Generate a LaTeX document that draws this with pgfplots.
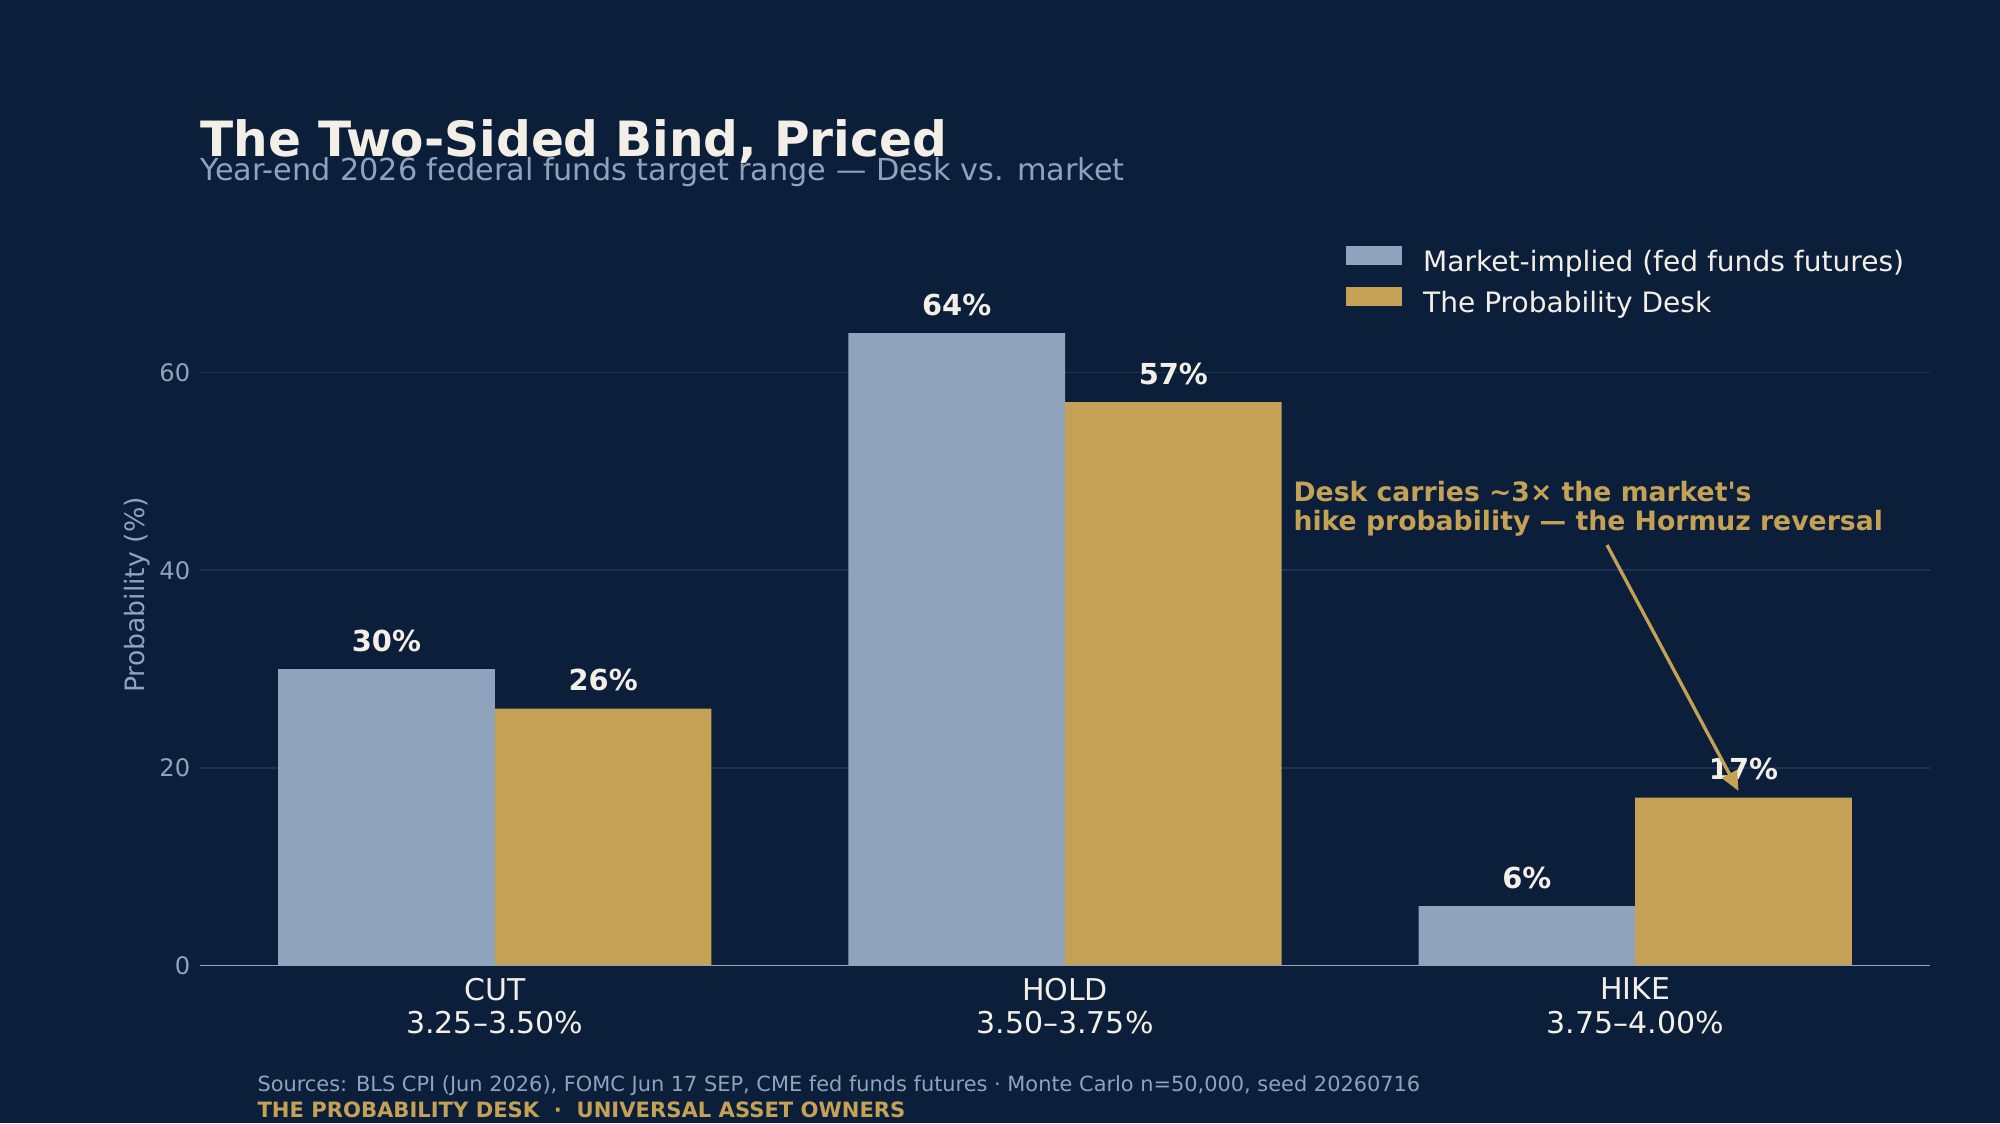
\documentclass[border=0pt]{standalone}
\usepackage{fontspec}
\setmainfont{DejaVu Sans}[Ligatures=TeXOff]
\usepackage{pgfplots}
\pgfplotsset{compat=1.18}
\usetikzlibrary{arrows.meta}
\definecolor{bg}{HTML}{0B1F3A}
\definecolor{mkt}{HTML}{8FA3BD}
\definecolor{desk}{HTML}{C4A155}
\definecolor{cream}{HTML}{F4EFE6}
\definecolor{sub}{HTML}{8FA3BD}
\definecolor{gridc}{HTML}{1C3252}
\begin{document}
\begin{tikzpicture}
\begin{scope}[x=0.36pt,y=-0.36pt]
\fill[bg] (0,0) rectangle (2000,1123);
\end{scope}
\begin{axis}[
  at={(72pt,-347.58pt)}, anchor=south west, scale only axis,
  width=622.8pt, height=249.05pt,
  xmin=-0.517, xmax=2.517, ymin=0, ymax=70,
  axis line style={draw=none},
  major tick length=0pt,
  /pgf/number format/assume math mode=true,
  ytick={0,20,40,60},
  yticklabel style={font=\fontsize{8.7}{10}\selectfont, text=sub},
  xtick={0,1,2},
  xticklabels={{CUT\\3.25–3.50\%},{HOLD\\3.50–3.75\%},{HIKE\\3.75–4.00\%}},
  xticklabel style={font=\fontsize{10.8}{12.2}\selectfont, text=cream, align=center, yshift=-0.9pt},
  ymajorgrids, grid style={gridc, line width=0.6pt},
  bar width=0.38,
  nodes near coords={\pgfmathprintnumber[fixed,precision=0]{\pgfplotspointmeta}\%},
  every node near coord/.append style={font=\bfseries\fontsize{10.4}{12}\selectfont, text=cream, inner sep=0pt, anchor=south, yshift=6pt},
  legend style={draw=none, fill=none, at={(rel axis cs:0.6624,0.988)}, anchor=west,
    inner sep=0pt, outer sep=0pt, row sep=3.8pt, column sep=7.6pt,
    font=\fontsize{10.1}{12}\selectfont, text=cream,
    nodes={inner sep=0pt, text height=7pt, text depth=2pt}},
  legend cell align=left,
  legend image code/.code={\path[#1] (0pt,-0.2pt) rectangle (20.2pt,6.6pt);},
]
\addplot[ybar, fill=mkt, draw=none, bar shift=0] coordinates {(-0.19,30) (0.81,64) (1.81,6)};
\addplot[ybar, fill=desk, draw=none, bar shift=0] coordinates {(0.19,26) (1.19,57) (2.19,17)};
\legend{Market-implied (fed funds futures), The Probability Desk}
\draw[sub, line width=0.6pt] (rel axis cs:0,0) -- (rel axis cs:1,0);
\end{axis}
\begin{scope}[x=0.36pt,y=-0.36pt]
\node[anchor=base west, inner sep=0pt, text=cream, font=\bfseries\fontsize{17.5}{20}\selectfont] at (200,156) {The Two-Sided Bind, Priced};
\node[anchor=base west, inner sep=0pt, text=sub, font=\fontsize{10.9}{12}\selectfont] at (200,180) {Year-end 2026 federal funds target range — Desk vs. market};
\node[rotate=90, inner sep=0pt, text=sub, font=\fontsize{9.6}{11}\selectfont] at (137,595) {Probability (\%)};
\node[anchor=base west, inner sep=0pt, text=desk, align=left, font=\bfseries\fontsize{9.6}{10.3}\selectfont] at (1293,530.6) {Desk carries \char"7E\relax 3× the market's\\hike probability — the Hormuz reversal};
\draw[desk, line width=1.2pt, -{Triangle[length=7pt,width=6pt]}] (1607,545) -- (1738.5,791);
\node[anchor=base west, inner sep=0pt, text=sub, font=\fontsize{7.52}{9}\selectfont] at (257,1091) {Sources: BLS CPI (Jun 2026), FOMC Jun 17 SEP, CME fed funds futures · Monte Carlo n=50,000, seed 20260716};
\node[anchor=base west, inner sep=0pt, text=desk, font=\bfseries\fontsize{7.6}{9}\selectfont] at (257,1117) {THE PROBABILITY DESK \ · \ UNIVERSAL ASSET OWNERS};
\pgfresetboundingbox
\path[use as bounding box] (0,0) rectangle (2000,1123);
\end{scope}
\end{tikzpicture}
\end{document}
